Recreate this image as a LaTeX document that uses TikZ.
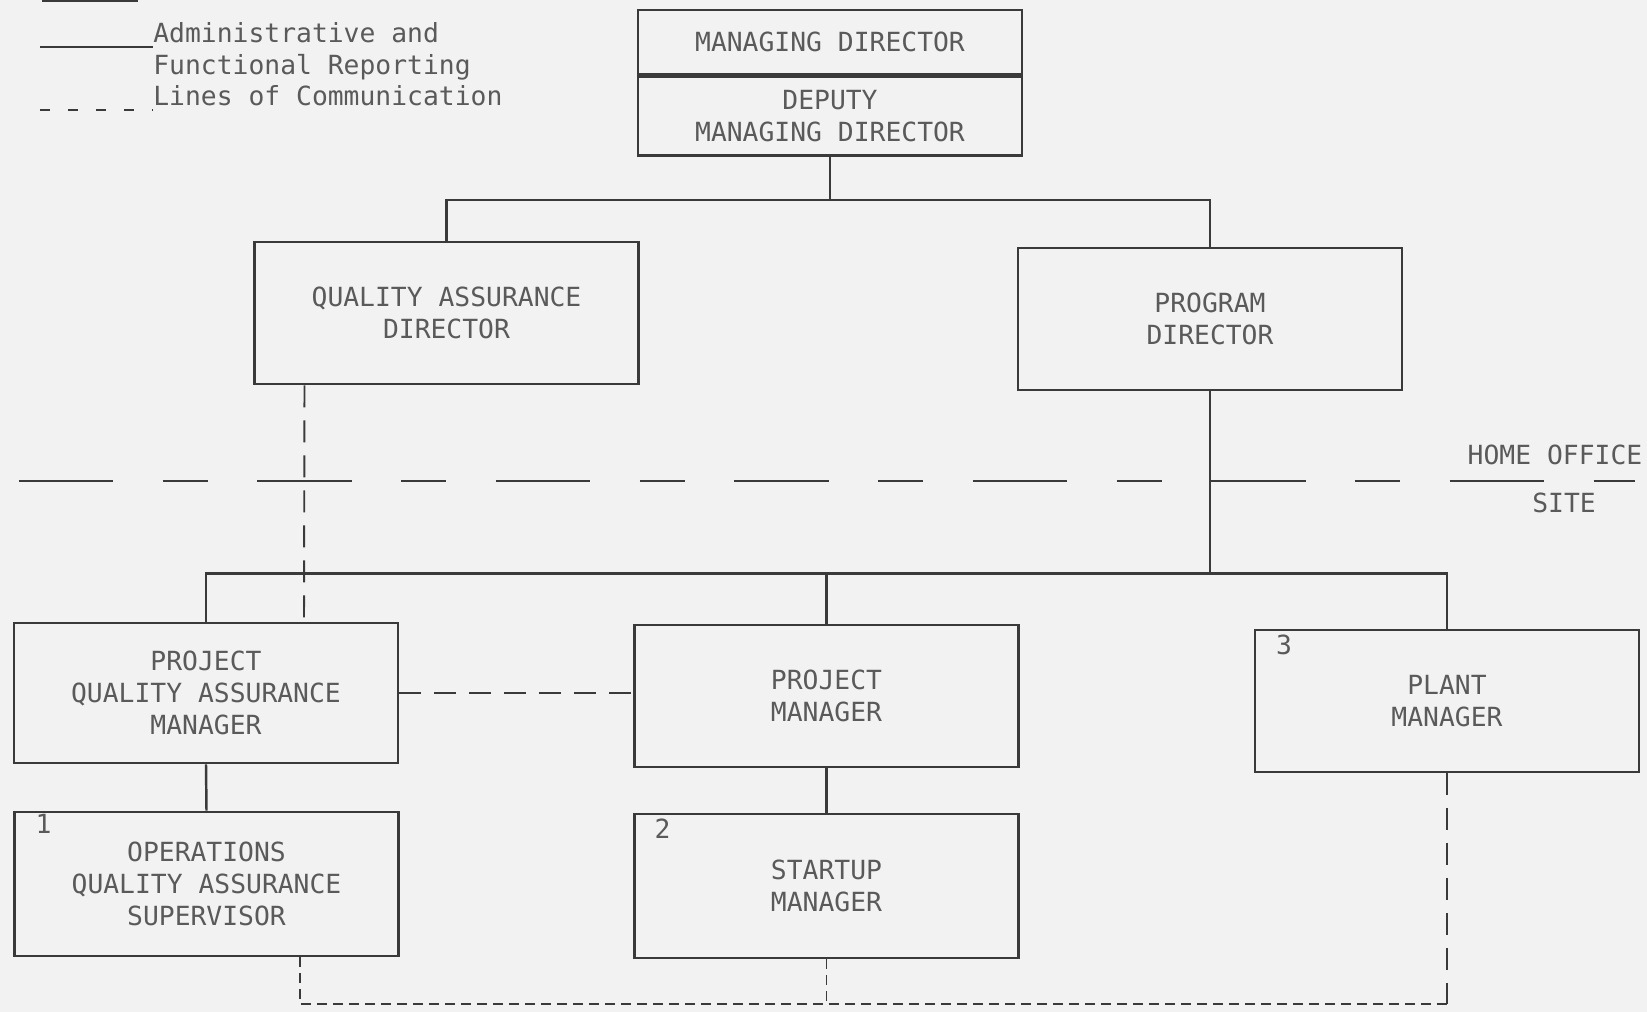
\documentclass[tikz,border=0pt]{standalone}
\usepackage{fontspec}
\setmainfont{DejaVu Sans Mono}
\usepackage{xcolor}
\usetikzlibrary{positioning,calc}
\definecolor{paper}{HTML}{F2F2F2}
\definecolor{ink}{HTML}{3A3A3A}
\definecolor{inktext}{HTML}{5A5A5A}

\begin{document}
\begin{tikzpicture}[
        x=0.02cm, y=-0.02cm,
        box/.style={rectangle, draw=ink, line width=1.5pt, text=inktext, font=\fontsize{15}{18}\selectfont, align=center, minimum width=7.68cm, minimum height=2.84cm, inner sep=0pt},
        note/.style={text=inktext, font=\fontsize{15}{18}\selectfont, inner sep=0pt},
        report/.style={draw=ink, line width=1.4pt},
        comm/.style={draw=ink, line width=1.1pt, dash pattern=on 0.44cm off 0.26cm},
        commfine/.style={draw=ink, line width=1.1pt, dash pattern=on 0.2cm off 0.12cm},
        border/.style={draw=ink, line width=1.2pt, dash pattern=on 1.89cm off 0.99cm on 0.9cm off 0.99cm}
    ]
        \useasboundingbox (0,0) rectangle (1647,1012);
        \fill[paper] (0,0) rectangle (1647,1012);

        % Legend
        \draw[report] (42,1) -- (138,1);
        \draw[report] (40,47) -- (153,47);
        \draw[ink, line width=1.1pt, dash pattern=on 0.2cm off 0.36cm] (40,110) -- (153,110);
        \node[note, anchor=north west, align=left] (key) at (153,22) {Administrative and\\Functional Reporting\\Lines of Communication};

        % Managing Director
        \node[box, minimum height=1.28cm] (md) at (830,42) {MANAGING DIRECTOR};
        \node[box, minimum height=1.58cm, anchor=north] (dmd) at (md.south) {DEPUTY\\MANAGING DIRECTOR};

        % Directors
        \node[box] (qad) at (446.5,313) {QUALITY ASSURANCE\\DIRECTOR};
        \node[box] (pd) at (1210,319) {PROGRAM\\DIRECTOR};

        % Home office / site
        \draw[border] (19,481) -- (1635,481);
        \node[note] (home) at (1555,455) {HOME OFFICE};
        \node[note] (site) at (1564,503) {SITE};

        % Site managers
        \node[box, minimum height=2.8cm] (pqam) at (206,693) {PROJECT\\QUALITY ASSURANCE\\MANAGER};
        \node[box] (pm) at (826.5,696) {PROJECT\\MANAGER};
        \node[box] (plm) at (1447,701) {PLANT\\MANAGER};
        \node[box, minimum height=2.88cm] (oqas) at (206.5,884) {OPERATIONS\\QUALITY ASSURANCE\\SUPERVISOR};
        \node[box, minimum height=2.88cm] (sm) at (826.5,886) {STARTUP\\MANAGER};

        % Notes
        \node[note, anchor=north west] (n1) at ([xshift=0.44cm, yshift=-0.06cm]oqas.north west) {1};
        \node[note, anchor=north west] (n2) at ([xshift=0.42cm, yshift=-0.12cm]sm.north west) {2};
        \node[note, anchor=north west] (n3) at ([xshift=0.44cm, yshift=-0.12cm]plm.north west) {3};

        % Reporting lines
        \draw[report] (dmd.south) -- ++(0,43) coordinate (split) -| (qad.north);
        \draw[report] (split) -| (pd.north);
        \draw[report] (pd.south) -- ++(0,182) coordinate (bus) -| (pqam.north);
        \draw[report] (bus) -| (pm.north);
        \draw[report] (bus) -| (plm.north);
        \draw[report] (pqam.south) -- (oqas.north);
        \draw[report] (pm.south) -- (sm.north);

        % Lines of communication
        \draw[comm] ($(qad.south)+(-142,0)$) -- ($(pqam.north)+(98,0)$);
        \draw[comm] (pqam.east) -- (pqam.east -| pm.west);
        \draw[comm] (plm.south) -- ++(0,231) coordinate (corner);
        \draw[commfine] ($(oqas.south)+(93.5,0)$) |- (corner);
        \draw[commfine] (sm.south) -- (sm.south |- corner);
    \end{tikzpicture}
\end{document}
